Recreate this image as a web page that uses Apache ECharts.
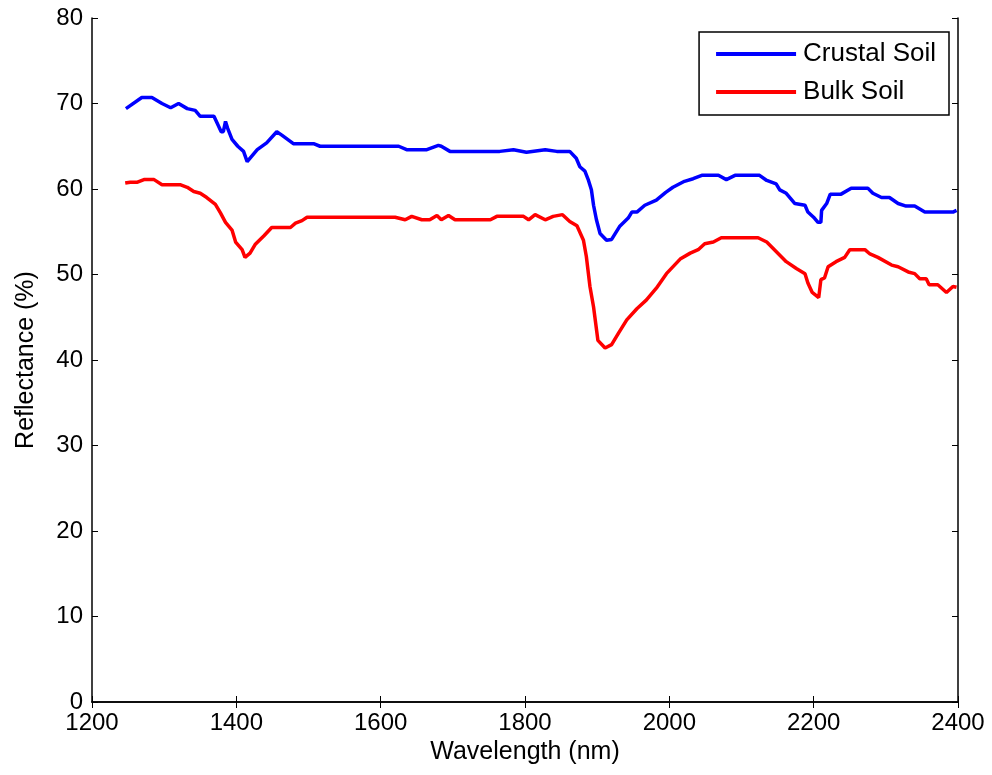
<!DOCTYPE html>
<html>
<head>
<meta charset="utf-8">
<script src="https://cdn.jsdelivr.net/npm/echarts@6/dist/echarts.min.js"></script>
<style>
  html, body { margin: 0; padding: 0; background: #fff; }
  #main { width: 992px; height: 775px; }
</style>
</head>
<body>
<div id="main"></div>
<script>
// wavelengths (nm) and reflectance (%)
var crustalWl = [1247, 1269, 1283, 1297, 1309, 1320, 1332, 1343, 1350, 1369, 1379, 1382, 1385, 1388, 1394, 1402, 1410, 1415, 1429, 1442, 1456, 1463, 1479, 1507, 1516, 1625, 1636, 1664, 1680, 1684, 1696, 1765, 1784, 1802, 1828, 1844, 1862, 1871, 1876, 1883, 1888, 1892, 1895, 1899, 1904, 1913, 1920, 1931, 1943, 1948, 1955, 1966, 1982, 1995, 2005, 2021, 2033, 2045, 2068, 2079, 2091, 2125, 2135, 2148, 2153, 2162, 2174, 2188, 2192, 2201, 2206, 2210, 2211, 2218, 2223, 2238, 2252, 2275, 2282, 2294, 2305, 2317, 2328, 2340, 2354, 2393, 2398];
var crustalRef = [69.4, 70.7, 70.7, 70.0, 69.5, 70.0, 69.4, 69.2, 68.5, 68.5, 66.7, 66.7, 67.9, 67.1, 65.8, 65.0, 64.4, 63.2, 64.6, 65.4, 66.7, 66.3, 65.3, 65.3, 65.0, 65.0, 64.6, 64.6, 65.1, 65.0, 64.4, 64.4, 64.6, 64.3, 64.6, 64.4, 64.4, 63.6, 62.6, 62.1, 61.0, 59.9, 58.1, 56.4, 54.8, 54.0, 54.1, 55.6, 56.6, 57.3, 57.3, 58.1, 58.7, 59.6, 60.2, 60.9, 61.2, 61.6, 61.6, 61.1, 61.6, 61.6, 61.0, 60.6, 59.9, 59.5, 58.3, 58.1, 57.3, 56.6, 56.1, 56.1, 57.5, 58.3, 59.4, 59.4, 60.1, 60.1, 59.5, 59.0, 59.0, 58.3, 58.0, 58.0, 57.3, 57.3, 57.5];

var bulkWl = [1246, 1253, 1263, 1272, 1286, 1297, 1322, 1332, 1341, 1350, 1359, 1371, 1378, 1385, 1394, 1399, 1408, 1412, 1419, 1426, 1438, 1449, 1475, 1482, 1491, 1498, 1620, 1634, 1643, 1657, 1668, 1678, 1684, 1694, 1703, 1752, 1761, 1798, 1805, 1814, 1828, 1839, 1852, 1862, 1872, 1881, 1885, 1890, 1895, 1901, 1911, 1920, 1930, 1941, 1955, 1968, 1982, 1996, 2015, 2029, 2040, 2049, 2061, 2072, 2123, 2135, 2148, 2162, 2176, 2188, 2192, 2198, 2207, 2210, 2215, 2220, 2231, 2243, 2250, 2271, 2278, 2289, 2308, 2317, 2331, 2340, 2347, 2356, 2360, 2372, 2384, 2393, 2398];
var bulkRef = [60.7, 60.8, 60.8, 61.1, 61.1, 60.5, 60.5, 60.2, 59.7, 59.5, 59.0, 58.2, 57.2, 56.1, 55.2, 53.8, 52.9, 52.0, 52.5, 53.5, 54.5, 55.5, 55.5, 56.0, 56.3, 56.7, 56.7, 56.4, 56.8, 56.4, 56.4, 56.9, 56.4, 56.9, 56.4, 56.4, 56.8, 56.8, 56.4, 57.0, 56.4, 56.8, 57.0, 56.2, 55.7, 54.0, 52.1, 48.6, 46.2, 42.3, 41.4, 41.8, 43.2, 44.7, 46.0, 47.0, 48.4, 50.1, 51.8, 52.5, 52.9, 53.6, 53.8, 54.3, 54.3, 53.8, 52.7, 51.5, 50.7, 50.1, 49.0, 47.9, 47.3, 49.4, 49.6, 50.9, 51.5, 52.0, 52.9, 52.9, 52.4, 52.0, 51.1, 50.9, 50.3, 50.1, 49.5, 49.5, 48.8, 48.8, 47.9, 48.6, 48.5];

function pairs(xs, ys) {
  return xs.map(function (x, i) { return [x, ys[i]]; });
}

var font = 'Liberation Sans, Arial, sans-serif';

var chart = echarts.init(document.getElementById('main'));

// shared axis look (MATLAB style: black, ticks pointing inward)
function axisBase(extra) {
  var a = {
    type: 'value',
    axisLine: { show: true, lineStyle: { color: '#000', width: 1.5 } },
    axisTick: { show: true, inside: true, length: 6, lineStyle: { color: '#000' } },
    splitLine: { show: false },
    axisLabel: {
      color: '#000', fontSize: 24, fontFamily: font, margin: 9,
      formatter: function (v) { return String(v); }
    }
  };
  for (var k in extra) a[k] = extra[k];
  return a;
}

var option = {
  animation: false,
  backgroundColor: '#fff',
  grid: { left: 92, right: 34, top: 18, bottom: 73 },
  legend: {
    orient: 'vertical',
    right: 43,
    top: 32,
    backgroundColor: '#fff',
    borderColor: '#000',
    borderWidth: 1.5,
    borderRadius: 0,
    padding: [8, 13, 9, 17],
    itemGap: 10,
    itemWidth: 80,
    itemHeight: 4,
    icon: 'rect',
    textStyle: { color: '#000', fontSize: 26, fontFamily: font, lineHeight: 28, padding: [0, 0, 0, 2] },
    data: ['Crustal Soil', 'Bulk Soil']
  },
  xAxis: [
    axisBase({
      min: 1200, max: 2400, interval: 200,
      name: 'Wavelength (nm)',
      nameLocation: 'middle',
      nameGap: 26,
      nameTextStyle: { color: '#000', fontSize: 25, fontFamily: font }
    }),
    axisBase({
      position: 'top', min: 1200, max: 2400, interval: 200,
      axisLabel: { show: false }
    })
  ],
  yAxis: [
    axisBase({
      min: 0, max: 80, interval: 10,
      name: 'Reflectance (%)',
      nameLocation: 'middle',
      nameGap: 53,
      nameTextStyle: { color: '#000', fontSize: 25, fontFamily: font }
    }),
    axisBase({
      position: 'right', min: 0, max: 80, interval: 10,
      axisLabel: { show: false }
    })
  ],
  series: [
    {
      name: 'Crustal Soil',
      type: 'line',
      showSymbol: false,
      color: '#0000ff',
      lineStyle: { width: 3.5, color: '#0000ff' },
      data: pairs(crustalWl, crustalRef)
    },
    {
      name: 'Bulk Soil',
      type: 'line',
      showSymbol: false,
      color: '#ff0000',
      lineStyle: { width: 3.5, color: '#ff0000' },
      data: pairs(bulkWl, bulkRef)
    }
  ]
};

chart.setOption(option);
</script>
</body>
</html>
